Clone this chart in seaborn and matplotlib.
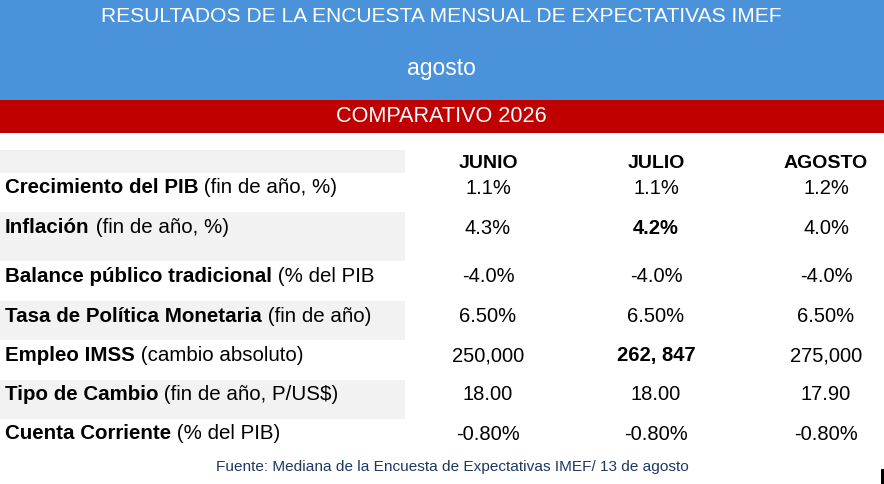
import numpy as np
import matplotlib
matplotlib.use("Agg")
import matplotlib.pyplot as plt
from matplotlib.patches import Rectangle
import seaborn as sns

# Table content
title = "RESULTADOS DE LA ENCUESTA MENSUAL DE EXPECTATIVAS IMEF"
subtitle = "agosto"
section = "COMPARATIVO 2026"
source = "Fuente: Mediana de la Encuesta de Expectativas IMEF/ 13 de agosto"

months = ["JUNIO", "JULIO", "AGOSTO"]
label_bold = ["Crecimiento del PIB", "Inflación", "Balance público tradicional",
              "Tasa de Política Monetaria", "Empleo IMSS", "Tipo de Cambio",
              "Cuenta Corriente"]
label_note = ["(fin de año, %)", "(fin de año, %)", "(% del PIB",
              "(fin de año)", "(cambio absoluto)", "(fin de año, P/US$)",
              "(% del PIB)"]
junio = ["1.1%", "4.3%", "-4.0%", "6.50%", "250,000", "18.00", "-0.80%"]
julio = ["1.1%", "4.2%", "-4.0%", "6.50%", "262, 847", "18.00", "-0.80%"]
agosto = ["1.2%", "4.0%", "-4.0%", "6.50%", "275,000", "17.90", "-0.80%"]
julio_bold = [False, True, False, False, True, False, False]

# layout (pixel coordinates)
W, H = 884, 484
col_x = [488, 656, 826]
row_y = [186, 226, 275, 315, 354, 393, 432]
header_y = 162
gray_bands = [(150, 173), (212, 261), (301, 340), (380, 419)]

sns.set_theme(style="white")
plt.rcParams['font.family'] = ['Liberation Sans', 'DejaVu Sans']
plt.rcParams['text.color'] = 'black'

fig = plt.figure(figsize=(W / 100, H / 100), dpi=100)
ax = fig.add_axes([0, 0, 1, 1])
ax.set_xlim(0, W)
ax.set_ylim(H, 0)
ax.axis('off')
renderer = fig.canvas.get_renderer()


def fit_text(txt, target_w):
    bb = txt.get_window_extent(renderer)
    txt.set_fontsize(txt.get_fontsize() * target_w / bb.width)


# banners
ax.add_patch(Rectangle((0, 0), W, 100, color="#4A93DA", lw=0))
ax.add_patch(Rectangle((0, 100), W, 33, color="#C00000", lw=0))
for y0, y1 in gray_bands:
    ax.add_patch(Rectangle((0, y0), 405, y1 - y0, color="#F2F2F2", lw=0))

t = ax.text(441, 17, title, color="white", ha="center", va="center", fontsize=15)
fit_text(t, 682)
t = ax.text(441, 68, subtitle, color="white", ha="center", va="center", fontsize=15)
fit_text(t, 69)
t = ax.text(441, 117, section, color="white", ha="center", va="center", fontsize=14)
fit_text(t, 211)

fs = 14.5
fs_lab = 14.8
for x, m in zip(col_x, months):
    ax.text(x, header_y + 2, m, ha="center", va="center", fontsize=14,
            fontweight="bold", color="black")

for i, y in enumerate(row_y):
    b = ax.text(5, y + 7, label_bold[i], ha="left", va="baseline",
                fontsize=fs_lab, fontweight="bold", color="black")
    ax.annotate(" " + label_note[i], xy=(1, y + 7), xycoords=(b, "data"),
                ha="left", va="baseline", fontsize=fs_lab, color="black")
    ax.text(col_x[0], y + 2, junio[i], ha="center", va="center", fontsize=fs,
            color="black")
    ax.text(col_x[1], y + 2, julio[i], ha="center", va="center", fontsize=fs,
            color="black", fontweight="bold" if julio_bold[i] else "normal")
    ax.text(col_x[2], y + 2, agosto[i], ha="center", va="center", fontsize=fs,
            color="black")

t = ax.text(452, 467, source, color="#1F3864", ha="center", va="center", fontsize=10)
fit_text(t, 474)

ax.add_patch(Rectangle((881, 469), 3, 15, color="black", lw=0))

fig.savefig("out.png", dpi=100)
